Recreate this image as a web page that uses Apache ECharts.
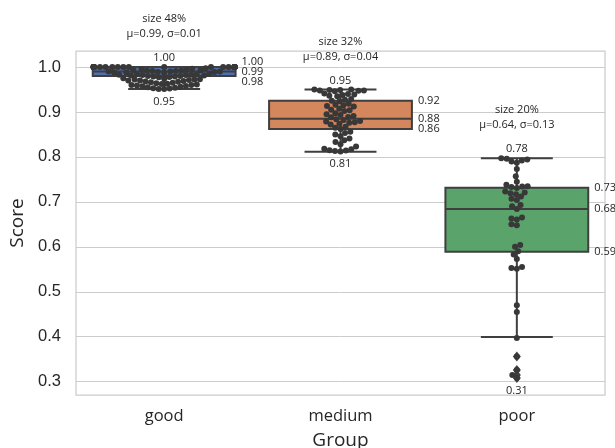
<!DOCTYPE html>
<html><head><meta charset="utf-8">
<script src="https://cdn.jsdelivr.net/npm/echarts@6/dist/echarts.min.js"></script>
<style>html,body{margin:0;padding:0;background:#fff}#c{width:615px;height:448px}</style>
</head><body><div id="c"></div>
<script>
// ---------------- data ----------------
const categories = ['good', 'medium', 'poor'];
// [lower whisker, Q1, median, Q3, upper whisker]
const boxStats = [
  [0.951, 0.980, 0.990, 1.000, 1.000],
  [0.8116, 0.862, 0.885, 0.925, 0.950],
  [0.3994, 0.589, 0.684, 0.7315, 0.797]
];
// [top, Q3, median, Q1, bottom] label texts
const boxLabels = [
  ['1.00', '1.00', '0.99', '0.98', '0.95'],
  ['0.95', '0.92', '0.88', '0.86', '0.81'],
  ['0.78', '0.73', '0.68', '0.59', '0.31']
];
const sizeTexts = ['size 48%', 'size 32%', 'size 20%'];
const statTexts = ['μ=0.99, σ=0.01', 'μ=0.89, σ=0.04', 'μ=0.64, σ=0.13'];
const poorOutliers = [0.356, 0.326, 0.315, 0.308];
const goodScores = [
  1.000, 1.000, 1.000, 1.000, 1.000, 1.000, 1.000, 1.000, 1.000, 1.000,
  1.000, 1.000, 1.000, 1.000, 1.000, 1.000, 1.000, 1.000, 1.000, 1.000,
  1.000, 1.000, 1.000, 1.000, 1.000, 1.000, 1.000, 1.000,
  0.997, 0.996, 0.995, 0.994, 0.993, 0.993, 0.992, 0.992, 0.991, 0.991,
  0.990, 0.990, 0.990, 0.989, 0.989, 0.988, 0.988, 0.987,
  0.985, 0.984, 0.984, 0.983, 0.983, 0.982, 0.982, 0.981, 0.981, 0.980,
  0.980, 0.979, 0.979, 0.978, 0.977,
  0.975, 0.974, 0.973, 0.972, 0.972, 0.971, 0.970, 0.970, 0.969, 0.968,
  0.967, 0.966,
  0.965, 0.964, 0.963, 0.962, 0.961, 0.960, 0.960, 0.959, 0.958,
  0.957, 0.956, 0.955, 0.954, 0.953, 0.952, 0.951, 0.951
];
const mediumScores = [
  0.950, 0.950, 0.949, 0.949, 0.948, 0.948, 0.947, 0.946,
  0.941, 0.940, 0.939, 0.938, 0.936, 0.935,
  0.929, 0.927, 0.925, 0.924,
  0.918, 0.916, 0.915, 0.913, 0.912,
  0.907, 0.905, 0.904, 0.902,
  0.897, 0.895, 0.893, 0.891, 0.889, 0.888,
  0.884, 0.882, 0.880, 0.879, 0.877, 0.876, 0.874, 0.872,
  0.867, 0.865, 0.862,
  0.856, 0.853, 0.850, 0.846,
  0.841, 0.837, 0.833,
  0.828, 0.823,
  0.818, 0.817, 0.815, 0.814, 0.813, 0.812
];
const poorScores = [
  0.797, 0.796, 0.794, 0.792, 0.790, 0.787, 0.773, 0.757, 0.745, 0.738,
  0.735, 0.734, 0.733, 0.731, 0.723, 0.721, 0.719, 0.717, 0.712, 0.707,
  0.704, 0.693, 0.690, 0.684, 0.665, 0.663, 0.661, 0.650, 0.648, 0.604,
  0.600, 0.590, 0.583, 0.573, 0.555, 0.553, 0.551, 0.470, 0.455, 0.397,
  0.356, 0.326, 0.315, 0.308
];
const yTicks = [0.3, 0.4, 0.5, 0.6, 0.7, 0.8, 0.9, 1.0];

// ---------------- style ----------------
const boxColors = ['#4c6fae', '#d4865c', '#5aa36a'];
const lineColor = '#3f3f3f';
const dotColor = '#383838';
const textColor = '#262626';
const humanist = '"Open Sans", "Noto Sans", sans-serif';
const DOT = 5.5;      // collision diameter for swarm layout
const DOT_SIZE = 6;   // drawn symbol size

const chart = echarts.init(document.getElementById('c'), null, {renderer: 'canvas'});

function renderBox(params, api) {
  const i = params.dataIndex;
  const s = boxStats[i];
  const lab = boxLabels[i];
  const band = api.size([1, 0])[0];
  const cx = api.coord([i, s[2]])[0];
  const y = v => api.coord([i, v])[1];
  const hw = band * 0.405, cw = band * 0.204;
  const yMin = y(s[0]), yQ1 = y(s[1]), yMed = y(s[2]), yQ3 = y(s[3]), yMax = y(s[4]);
  const lowest = i === 2 ? Math.min(s[0], ...poorOutliers) : s[0];
  const yLow = y(lowest);
  const ls = {stroke: lineColor, lineWidth: 2};
  const txt = (t, x, yy, align, size) => ({
    type: 'text', x: x, y: yy, z2: 20,
    style: {text: t, fill: textColor, fontSize: size, fontFamily: humanist,
            align: align, verticalAlign: 'middle'}
  });
  const lMed = yMed, lQ3 = Math.min(yQ3, yMed - 10), lQ1 = Math.max(yQ1, yMed + 10);
  const rx = cx + hw + 6;
  return {
    type: 'group',
    children: [
      {type: 'line', shape: {x1: cx, y1: yQ3, x2: cx, y2: yMax}, style: ls},
      {type: 'line', shape: {x1: cx, y1: yQ1, x2: cx, y2: yMin}, style: ls},
      {type: 'line', shape: {x1: cx - cw, y1: yMax, x2: cx + cw, y2: yMax}, style: ls},
      {type: 'line', shape: {x1: cx - cw, y1: yMin, x2: cx + cw, y2: yMin}, style: ls},
      {type: 'rect', shape: {x: cx - hw, y: yQ3, width: 2 * hw, height: yQ1 - yQ3},
        style: {fill: boxColors[i], stroke: lineColor, lineWidth: 2}},
      {type: 'line', shape: {x1: cx - hw, y1: yMed, x2: cx + hw, y2: yMed}, style: ls},
      txt(sizeTexts[i], cx, yMax - 48, 'center', 11),
      txt(statTexts[i], cx, yMax - 33, 'center', 11),
      txt(lab[0], cx, yMax - 9, 'center', 11),
      txt(lab[1], rx, lQ3, 'left', 11),
      txt(lab[2], rx, lMed, 'left', 11),
      txt(lab[3], rx, lQ1, 'left', 11),
      txt(lab[4], cx, yLow + 12.5, 'center', 11)
    ]
  };
}

const option = {
  animation: false,
  backgroundColor: '#ffffff',
  grid: {left: 76, right: 10, top: 51, bottom: 53, show: true,
         containLabel: false, outerBoundsMode: 'none',
         borderColor: '#cccccc', borderWidth: 1.25, backgroundColor: 'transparent'},
  xAxis: [
    {type: 'category', data: categories, boundaryGap: true,
     axisLine: {show: false}, axisTick: {show: false},
     axisLabel: {color: textColor, fontSize: 16.5, fontFamily: humanist, margin: 13},
     name: 'Group', nameLocation: 'middle', nameGap: 36,
     nameTextStyle: {color: textColor, fontSize: 19, fontFamily: humanist}},
    {type: 'value', min: -0.5, max: 2.5, show: false}
  ],
  yAxis: [{
    type: 'value', min: 0.2704, max: 1.0356,
    axisLine: {show: false},
    axisTick: {show: false, customValues: yTicks},
    axisLabel: {customValues: yTicks, color: textColor, fontSize: 16.5,
                fontFamily: '"Liberation Sans", Arial, sans-serif', margin: 15,
                formatter: v => v.toFixed(1)},
    splitLine: {show: true, lineStyle: {color: '#cccccc', width: 1}},
    name: 'Score', nameLocation: 'middle', nameGap: 41,
    nameTextStyle: {color: textColor, fontSize: 19, fontFamily: humanist}
  }],
  series: [
    {type: 'custom', name: 'box', xAxisIndex: 0, yAxisIndex: 0, z: 2,
     renderItem: renderBox, clip: false,
     data: boxStats.map((s, i) => [i, s[2]])},
    {type: 'scatter', name: 'outliers', xAxisIndex: 0, yAxisIndex: 0, z: 3,
     symbol: 'diamond', symbolSize: [8, 10],
     itemStyle: {color: lineColor, opacity: 1},
     data: poorOutliers.map(v => [2, v])},
    {type: 'scatter', name: 'swarm', xAxisIndex: 1, yAxisIndex: 0, z: 4,
     symbol: 'circle', symbolSize: DOT_SIZE,
     itemStyle: {color: dotColor, opacity: 1},
     data: []}
  ]
};
chart.setOption(option);

function swarm(values, idx) {
  const band = chart.convertToPixel({xAxisIndex: 1}, 1) - chart.convertToPixel({xAxisIndex: 1}, 0);
  const maxHalf = band * 0.4;
  const pts = values.map(v => ({v: v, y: chart.convertToPixel({yAxisIndex: 0}, v), x: 0}));
  const order = pts.slice().sort((a, b) => b.y - a.y);
  const placed = [];
  const d = DOT;
  for (const p of order) {
    const nb = placed.filter(q => Math.abs(q.y - p.y) < d);
    const cands = [0];
    nb.forEach(q => {
      const dy = p.y - q.y;
      const dx = Math.sqrt(d * d - dy * dy);
      cands.push(q.x - dx, q.x + dx);
    });
    cands.sort((a, b) => Math.abs(a) - Math.abs(b));
    const x = cands.find(c => nb.every(q => (q.x - c) * (q.x - c) + (q.y - p.y) * (q.y - p.y) >= d * d - 1e-6));
    p.x = x === undefined ? 0 : x;
    placed.push(p);
  }
  return pts.map(p => [idx + Math.max(-maxHalf, Math.min(maxHalf, p.x)) / band, p.v]);
}

const swarmData = [].concat(swarm(goodScores, 0), swarm(mediumScores, 1), swarm(poorScores, 2));
chart.setOption({series: [{}, {}, {data: swarmData}]});
</script>
</body></html>
